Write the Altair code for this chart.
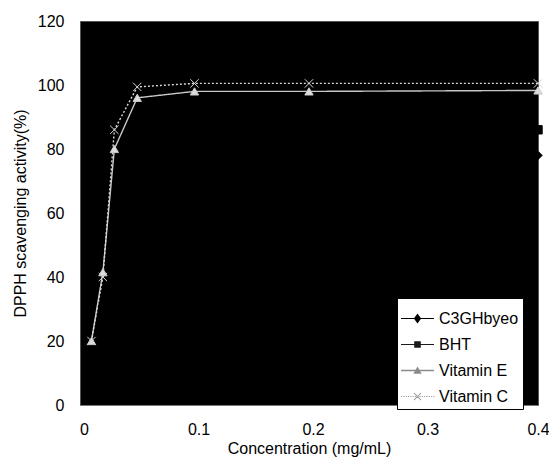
import altair as alt
import pandas as pd

# ---- data ----
concentration = [0.01, 0.02, 0.03, 0.05, 0.1, 0.2, 0.4]
c3ghbyeo = [12, 22, 32, 45, 60, 71, 78]
bht = [16, 30, 45, 62, 75, 82, 86]
vitamin_e = [20, 41.5, 80, 96, 98, 98, 98.3]
vitamin_c = [20, 40, 86, 99.4, 100.5, 100.5, 100.5]

series_names = ["C3GHbyeo", "BHT", "Vitamin E", "Vitamin C"]
series_values = [c3ghbyeo, bht, vitamin_e, vitamin_c]

x_ticks = [0, 0.1, 0.2, 0.3, 0.4]
y_ticks = [0, 20, 40, 60, 80, 100, 120]

rows = []
for name, vals in zip(series_names, series_values):
    for c, v in zip(concentration, vals):
        rows.append({"conc": c, "value": v, "series": name})
df = pd.DataFrame(rows)

# ---- styles ----
line_colors = ["#000000", "#000000", "#c8c8c8", "#d8d8d8"]
marker_fill = ["#000000", "#000000", "#dcdcdc", "transparent"]
marker_stroke = ["#000000", "#000000", "#dcdcdc", "#e0e0e0"]
dashes = [[1, 0], [1, 0], [1, 0], [2, 2]]
xmark = "M-1,-1L1,1M-1,1L1,-1"
marker_shapes = ["diamond", "square", "triangle-up", xmark]

# legend symbols: line segment + marker, built from filled paths
solid = "M-1,-0.035H1V0.035H-1Z"
dotted = "".join(
    f"M{-1 + i * 0.14:.2f},-0.03h0.07v0.06h-0.07Z" for i in range(15)
)
leg_diamond = "M0,-0.3L0.22,0L0,0.3L-0.22,0Z"
leg_square = "M-0.2,-0.2H0.2V0.2H-0.2Z"
leg_tri = "M0,-0.25L0.25,0.2H-0.25Z"
leg_x = ("M-0.24,-0.2L-0.2,-0.24L0.24,0.2L0.2,0.24Z"
         "M-0.24,0.2L-0.2,0.24L0.24,-0.2L0.2,-0.24Z")
legend_shapes = [solid + leg_diamond, solid + leg_square,
                 "M-1,-0.05H1V0.05H-1Z" + leg_tri, dotted + leg_x]
legend_colors = ["#000000", "#1a1a1a", "#8a8a8a", "#9a9a9a"]

FONT = "Liberation Sans"

xenc = alt.X("conc:Q", scale=alt.Scale(domain=[0, 0.4], nice=False, zero=False),
             axis=alt.Axis(values=x_ticks, format=".1~f", title="Concentration (mg/mL)",
                           grid=False, ticks=False, domain=True, domainColor="#777777",
                           labelFontSize=16, labelPadding=16,
                           labelOffset={"condition": {"test": "datum.value >= 0.4", "value": 0},
                                        "value": 4},
                           titleFontSize=16, titleFontWeight="normal", titlePadding=3,
                           labelFont=FONT, titleFont=FONT, labelColor="#000", titleColor="#000",
                           labelFlush=False))
yenc = alt.Y("value:Q", scale=alt.Scale(domain=[0, 120], nice=False),
             axis=alt.Axis(values=y_ticks, title="DPPH scavenging activity(%)",
                           grid=False, ticks=False, domain=False,
                           labelFontSize=16, labelPadding=16,
                           titleFontSize=16, titleFontWeight="normal", titlePadding=9,
                           labelFont=FONT, titleFont=FONT, labelColor="#000", titleColor="#000"))

lines = alt.Chart(df).mark_line(strokeWidth=1.4).encode(
    x=xenc, y=yenc,
    stroke=alt.Stroke("series:N", scale=alt.Scale(domain=series_names, range=line_colors), legend=None),
    strokeDash=alt.StrokeDash("series:N", scale=alt.Scale(domain=series_names, range=dashes), legend=None),
    detail="series:N",
)

points = alt.Chart(df).mark_point(size=70, strokeWidth=1, opacity=1).encode(
    x=xenc, y=yenc,
    shape=alt.Shape("series:N", scale=alt.Scale(domain=series_names, range=marker_shapes), legend=None),
    fill=alt.Fill("series:N", scale=alt.Scale(domain=series_names, range=marker_fill), legend=None),
    stroke=alt.Stroke("series:N", scale=alt.Scale(domain=series_names, range=line_colors), legend=None),
)

legend_layer = alt.Chart(df).mark_point(filled=True, opacity=0, size=1089).encode(
    x=xenc, y=yenc,
    shape=alt.Shape("series:N", scale=alt.Scale(domain=series_names, range=legend_shapes),
                    legend=alt.Legend(title=None, symbolOpacity=1)),
    color=alt.Color("series:N", scale=alt.Scale(domain=series_names, range=legend_colors),
                    legend=alt.Legend(title=None, symbolOpacity=1)),
)

chart = alt.layer(lines, points, legend_layer).resolve_scale(
    shape="independent", color="independent"
).properties(
    width=458, height=384,
    autosize=alt.AutoSizeParams(type="none"),
    padding={"left": 72, "top": 13, "right": 11, "bottom": 56},
    background="white",
).configure_view(
    fill="#000000", stroke="#555555", strokeWidth=1,
).configure_legend(
    orient="none", legendX=317, legendY=277,
    fillColor="white", strokeColor="#000000", padding=4,
    labelFont=FONT, labelFontSize=16, labelColor="#000",
    symbolSize=1089, symbolStrokeWidth=0, symbolOpacity=1,
    labelOffset=5, rowPadding=1,
)

chart.save("out.html", embed_options={"renderer": "svg", "actions": False})
